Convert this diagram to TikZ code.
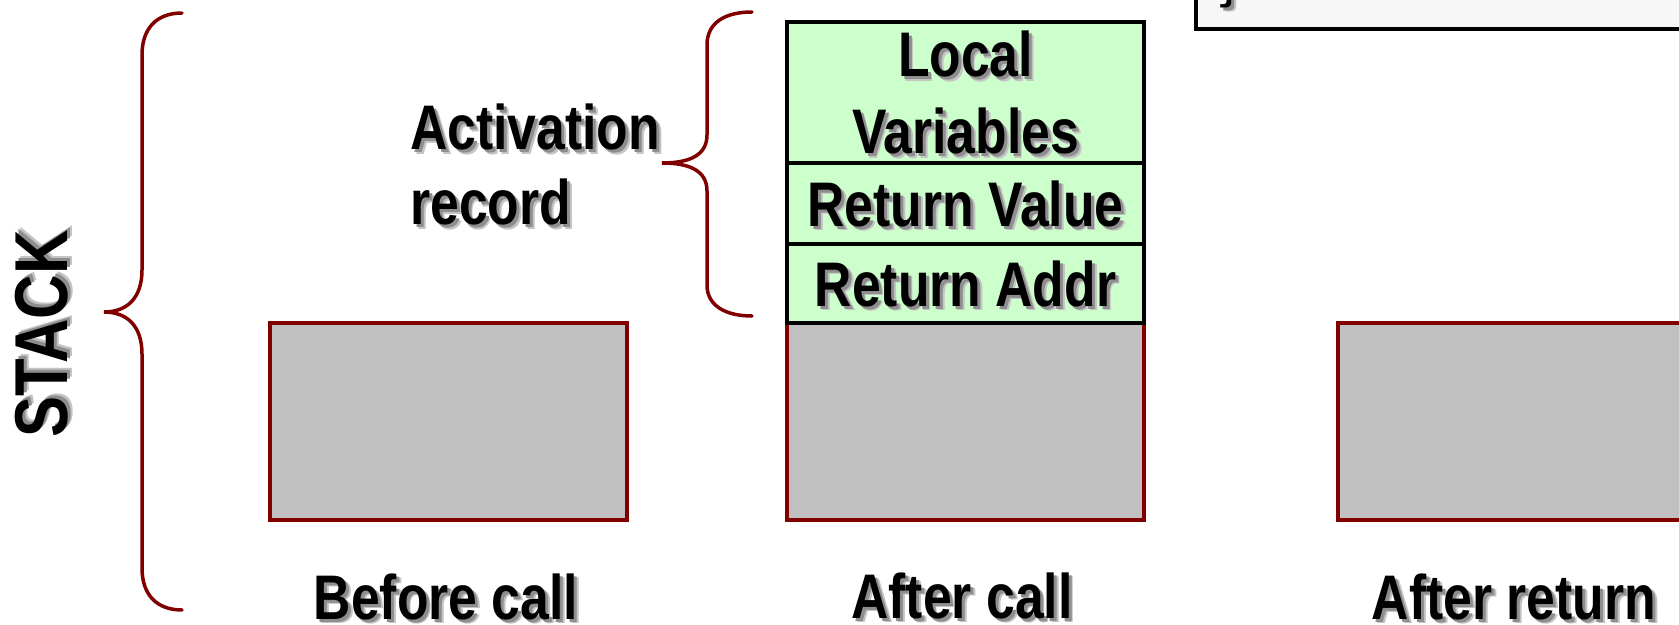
\documentclass[tikz,border=0pt]{standalone}
\usepackage{fontspec}
\newfontfamily\nar{Liberation Sans}[FakeStretch=0.82]
\newfontfamily\monof{Liberation Mono}
\definecolor{brc}{HTML}{800000}
\definecolor{memgray}{HTML}{C0C0C0}
\definecolor{recgreen}{HTML}{CCFFCC}
\definecolor{shcol}{HTML}{8E8E8E}
\definecolor{shcolb}{HTML}{C4C4C4}
\definecolor{codebg}{HTML}{F7F7F7}
\newcommand\shd[1]{\leavevmode
  \rlap{\smash{\kern4.8pt\raisebox{-4.8pt}{\textcolor{shcolb}{#1}}}}%
  \rlap{\smash{\kern3pt\raisebox{-3pt}{\textcolor{shcol}{#1}}}}#1}
\tikzset{
  membox/.style={draw=brc, fill=memgray, line width=3.5pt, minimum width=357pt, minimum height=197pt, inner sep=0pt, outer sep=0pt},
  cell/.style={draw=black, fill=recgreen, line width=3.5pt, minimum width=357pt, inner sep=0pt, outer sep=0pt, align=center,
    font={\nar\bfseries\fontsize{63pt}{77pt}\selectfont}},
  lbl/.style={inner sep=0pt, font={\nar\bfseries\fontsize{63pt}{75pt}\selectfont}},
  bracepath/.style={draw=brc, line width=3.5pt, line cap=round}
}
\begin{document}
\begin{tikzpicture}[x=1pt, y=-1pt]
\useasboundingbox (0,0) rectangle (1679,624);
\clip (0,0) rectangle (1679,624);
% code box fragment at top right
\node[draw=black, fill=codebg, line width=4pt, minimum width=520pt, minimum height=60pt, inner sep=0pt, outer sep=0pt, anchor=south west] (code) at (1196,29) {};
\node[anchor=base, inner sep=0pt, font={\monof\bfseries\fontsize{36pt}{40pt}\selectfont}] (cbr) at (1228,0) {\shd{\}}};
% memory boxes
\node[membox] (bc) at (448.5,421.5) {};
\node[membox] (ac) at (965.5,421.5) {};
\node[membox] (ar) at (1516.5,421.5) {};
% activation record cells
\node[cell, minimum height=141pt] (lv) at (965.5,92.5) {\shd{Local}\\\shd{Variables}};
\node[cell, minimum height=81pt] (rv) at (965.5,203.5) {\shd{Return Value}};
\node[cell, minimum height=79pt] (ra) at (965.5,283.5) {\shd{Return Addr}};
% labels
\node[lbl, anchor=base] (lbc) at (446,619) {\shd{Before call}};
\node[lbl, anchor=base] (lac) at (962,618) {\shd{After call}};
\node[lbl, anchor=base] (lar) at (1514,619) {\shd{After return}};
\node[lbl, anchor=north west, align=left] (act) at (410,104) {\shd{Activation}\\\shd{record}};
\node[inner sep=0pt, rotate=90, font={\nar\bfseries\fontsize{75pt}{80pt}\selectfont}] (stk) at (42,334) {\shd{STACK}};
% braces
\draw[bracepath] (182,13) .. controls (157,13) and (142,28) .. (142,55) -- (142,270)
  .. controls (142,298) and (127,312) .. (104,312)
  .. controls (127,312) and (142,326) .. (142,354) -- (142,568)
  .. controls (142,595) and (157,610) .. (182,610);
\draw[bracepath] (752,12) .. controls (726,12) and (707,22) .. (707,45) -- (707,135)
  .. controls (707,155) and (690,163) .. (662,163)
  .. controls (690,163) and (707,171) .. (707,191) -- (707,285)
  .. controls (707,306) and (726,316) .. (752,316);
\end{tikzpicture}
\end{document}
